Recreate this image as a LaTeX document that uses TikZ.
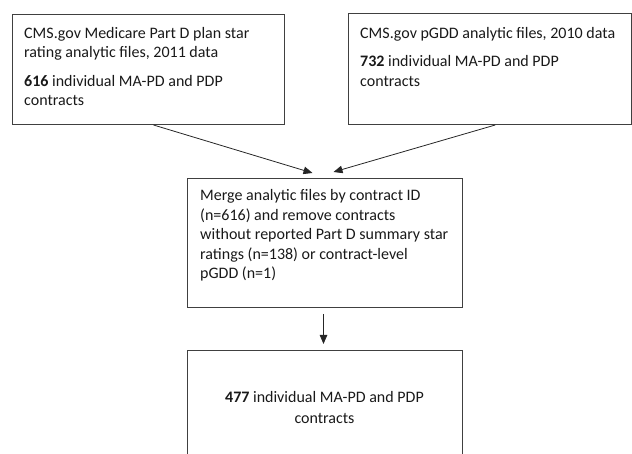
\documentclass[tikz,border=0pt]{standalone}
\usepackage{fontspec}
\setmainfont{Carlito}
\usetikzlibrary{arrows.meta}
\begin{document}
\begin{tikzpicture}[x=1pt,y=-1pt,
  box/.style={draw=black!75,line width=1pt,rectangle,inner sep=0pt,anchor=north west},
  txt/.style={inner sep=0pt,align=left,anchor=north west,font=\fontsize{16}{19.5}\selectfont,text=black!90},
  ctxt/.style={inner sep=0pt,align=center,anchor=north,font=\fontsize{16}{19.5}\selectfont,text=black!90},
  arr/.style={draw=black!85,line width=0.8pt,-{Triangle[length=9pt,width=7.5pt]}}]
\useasboundingbox (0,0) rectangle (632,454);
% boxes
\node[box,minimum width=272pt,minimum height=110pt] (A) at (12,14) {};
\node[box,minimum width=282.5pt,minimum height=111pt] (B) at (348,13) {};
\node[box,minimum width=275pt,minimum height=129pt] (C) at (187,178) {};
\node[box,minimum width=275pt,minimum height=130pt] (D) at (187,350) {};
% texts
\node[txt] (tA) at (24,27) {CMS.gov Medicare Part D plan star\\rating analytic files, 2011 data\\[9pt]\textbf{616} individual MA-PD and PDP\\contracts};
\node[txt] (tB) at (360,27) {CMS.gov pGDD analytic files, 2010 data\\[9pt]\textbf{732} individual MA-PD and PDP\\contracts};
\node[txt] (tC) at (200,189.5) {Merge analytic files by contract ID\\(n=616) and remove contracts\\without reported Part D summary star\\ratings (n=138) or contract-level\\pGDD (n=1)};
\node[ctxt] (tD) at (324.5,391) {\textbf{477} individual MA-PD and PDP\\[2pt]contracts};
% connectors
\draw[arr] ([xshift=5pt]A.south) -- ([xshift=-12.5pt,yshift=5pt]C.north);
\draw[arr] ([xshift=5.5pt]B.south) -- ([xshift=8.5pt,yshift=6pt]C.north);
\draw[arr] ([xshift=-1.5pt,yshift=-6pt]C.south) -- ([xshift=-1.5pt,yshift=6pt]D.north);
\end{tikzpicture}
\end{document}
